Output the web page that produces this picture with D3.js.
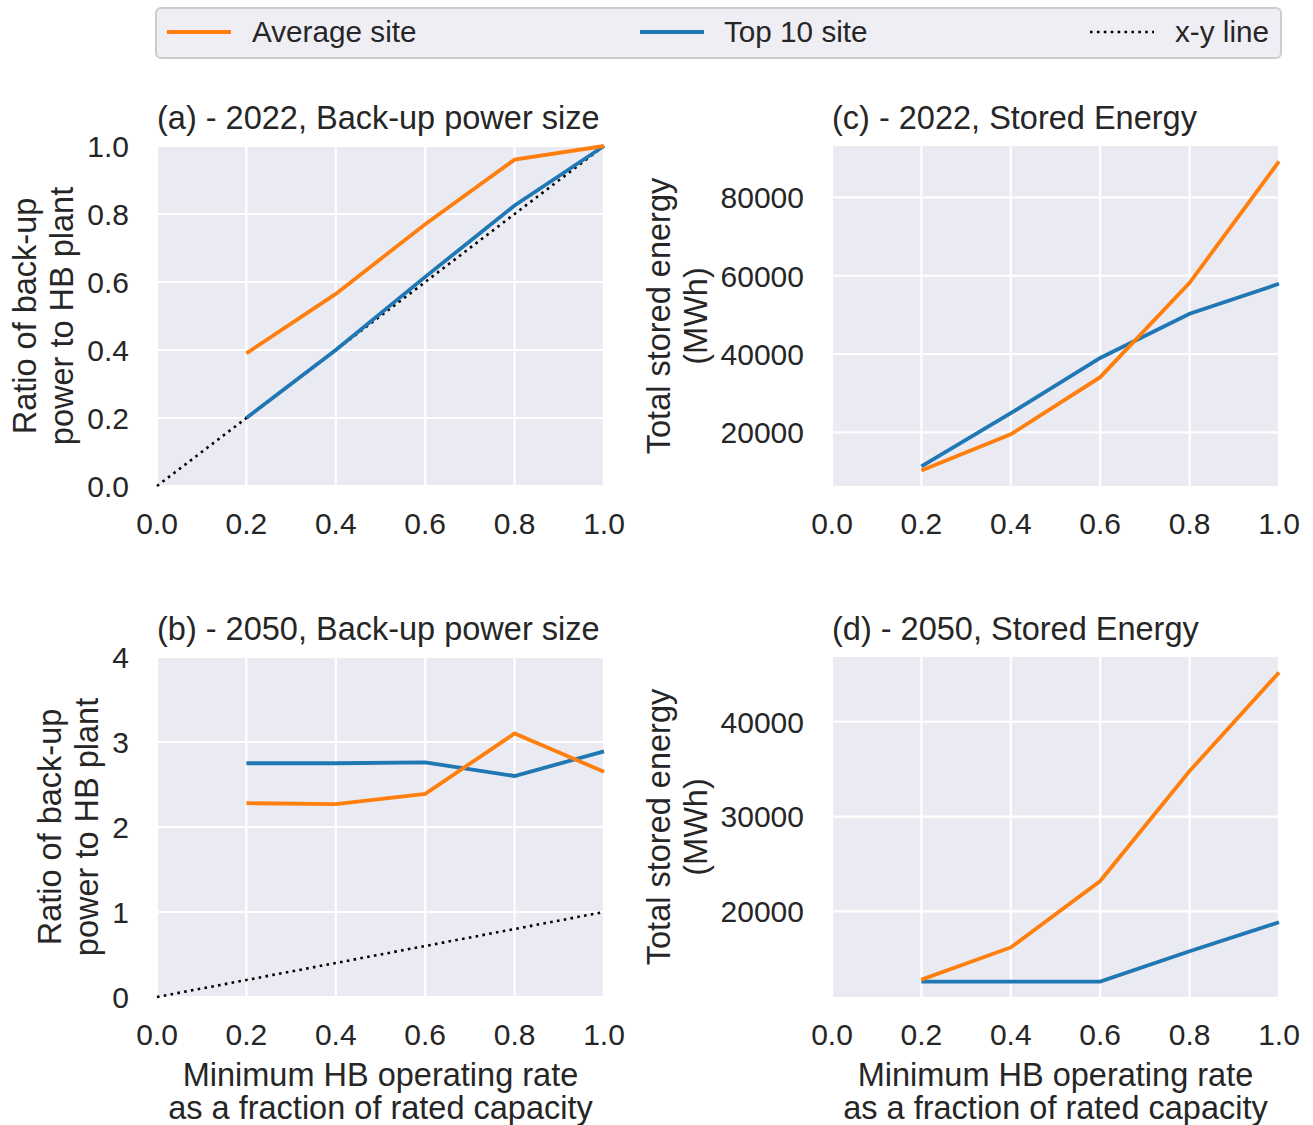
<!DOCTYPE html>
<html>
<head>
<meta charset="utf-8">
<script src="https://cdn.jsdelivr.net/npm/d3@7"></script>
<style>
  body { margin: 0; background: #fff; }
  text { font-family: "Liberation Sans", Arial, sans-serif; fill: #262626; }
</style>
</head>
<body>
<div id="root"></div>
<script>
// minimum HB operating rate
const rates = [0.2, 0.4, 0.6, 0.8, 1.0];

// 2022 back-up power ratio
const avgPower2022 = [0.39, 0.565, 0.77, 0.96, 1.0];
const topPower2022 = [0.2, 0.4, 0.615, 0.825, 1.0];
// 2050 back-up power ratio
const avgPower2050 = [2.28, 2.27, 2.39, 3.10, 2.65];
const topPower2050 = [2.75, 2.75, 2.76, 2.60, 2.89];
// stored energy (MWh)
const avgEnergy2022 = [10250, 19500, 34100, 58200, 89200];
const topEnergy2022 = [11300, 24900, 39000, 50300, 57950];
const avgEnergy2050 = [12800, 16200, 23200, 34800, 45200];
const topEnergy2050 = [12600, 12600, 12600, 15800, 18850];

const xyLine = [0, 1];
const xTicks = [0, 0.2, 0.4, 0.6, 0.8, 1.0];

const ORANGE = '#ff7f0e';
const BLUE = '#1f77b4';

const width = 1313, height = 1125;
const tickSize = 30, labelSize = 32.5, legendSize = 29.7;

const svg = d3.select('#root').append('svg')
  .attr('width', width).attr('height', height);

const powerLabel = ['Ratio of back-up', 'power to HB plant'];
const energyLabel = ['Total stored energy', '(MWh)'];
const xLabel = ['Minimum HB operating rate', 'as a fraction of rated capacity'];

const panels = [
  {title: '(a) - 2022, Back-up power size', left: 157, top: 146, avg: avgPower2022, top10: topPower2022,
    yDomain: [0, 1], yTicks: [0, 0.2, 0.4, 0.6, 0.8, 1.0], fmt: d3.format('.1f'), ylab: powerLabel, xy: true},
  {title: '(b) - 2050, Back-up power size', left: 157, top: 657, avg: avgPower2050, top10: topPower2050,
    yDomain: [0, 4], yTicks: [0, 1, 2, 3, 4], fmt: d3.format('d'), ylab: powerLabel, xy: true, xlab: true},
  {title: '(c) - 2022, Stored Energy', left: 832, top: 146, avg: avgEnergy2022, top10: topEnergy2022,
    yDomain: null, yTicks: null, fmt: d3.format('d'), ylab: energyLabel},
  {title: '(d) - 2050, Stored Energy', left: 832, top: 657, avg: avgEnergy2050, top10: topEnergy2050,
    yDomain: null, yTicks: null, fmt: d3.format('d'), ylab: energyLabel, xlab: true},
];

const pw = 447, ph = 340;

panels.forEach(p => {
  const g = svg.append('g').attr('transform', `translate(${p.left},${p.top})`);
  const x = d3.scaleLinear().domain([0, 1]).range([0, pw]);
  let yDom = p.yDomain;
  if (!yDom) {
    // matplotlib-style autoscale with 5% margins
    const ext = d3.extent(p.avg.concat(p.top10));
    const m = (ext[1] - ext[0]) * 0.05;
    yDom = [ext[0] - m, ext[1] + m];
  }
  const y = d3.scaleLinear().domain(yDom).range([ph, 0]);
  const yT = p.yTicks || y.ticks(5);

  g.append('rect').attr('width', pw).attr('height', ph).attr('fill', '#eaeaf2');

  // grid
  g.selectAll('.gx').data(xTicks).enter().append('line')
    .attr('x1', d => x(d)).attr('x2', d => x(d)).attr('y1', 0).attr('y2', ph)
    .attr('stroke', '#fff').attr('stroke-width', 2.2);
  g.selectAll('.gy').data(yT).enter().append('line')
    .attr('x1', 0).attr('x2', pw).attr('y1', d => y(d)).attr('y2', d => y(d))
    .attr('stroke', '#fff').attr('stroke-width', 2.2);

  // tick labels
  g.selectAll('.tx').data(xTicks).enter().append('text')
    .attr('x', d => x(d)).attr('y', ph + 48)
    .attr('text-anchor', 'middle').attr('font-size', tickSize)
    .text(d => d3.format('.1f')(d));
  const ty = g.append('g');
  ty.selectAll('text').data(yT).enter().append('text')
    .attr('x', -28).attr('y', d => y(d)).attr('dy', '0.36em')
    .attr('text-anchor', 'end').attr('font-size', tickSize)
    .text(d => p.fmt(d));
  const tickLeft = ty.node().getBBox().x;

  const clip = 'clip' + p.title[1];
  g.append('clipPath').attr('id', clip).append('rect')
    .attr('x', -3).attr('y', -3).attr('width', pw + 6).attr('height', ph + 6);
  const plot = g.append('g').attr('clip-path', `url(#${clip})`);

  const line = d3.line().x(d => x(d[0])).y(d => y(d[1]));
  if (p.xy) {
    plot.append('path').datum(xyLine.map(v => [v, v]))
      .attr('d', line).attr('fill', 'none').attr('stroke', '#000')
      .attr('stroke-width', 2.6).attr('stroke-dasharray', '2.6,4.3');
  }
  plot.append('path').datum(rates.map((r, i) => [r, p.top10[i]]))
    .attr('d', line).attr('fill', 'none').attr('stroke', BLUE).attr('stroke-width', 3.8);
  plot.append('path').datum(rates.map((r, i) => [r, p.avg[i]]))
    .attr('d', line).attr('fill', 'none').attr('stroke', ORANGE).attr('stroke-width', 3.8);

  // title, left aligned
  g.append('text').attr('x', 0).attr('y', -17)
    .attr('text-anchor', 'start').attr('font-size', labelSize).text(p.title);

  // y label, two lines
  const base2 = tickLeft - 14;
  const yl = g.append('text')
    .attr('transform', `translate(${base2},${ph / 2}) rotate(-90)`)
    .attr('text-anchor', 'middle').attr('font-size', labelSize);
  yl.append('tspan').attr('x', 0).attr('y', -37).text(p.ylab[0]);
  yl.append('tspan').attr('x', 0).attr('y', 0).text(p.ylab[1]);

  if (p.xlab) {
    const xl = g.append('text').attr('text-anchor', 'middle').attr('font-size', labelSize);
    xl.append('tspan').attr('x', pw / 2).attr('y', ph + 89).text(xLabel[0]);
    xl.append('tspan').attr('x', pw / 2).attr('y', ph + 122).text(xLabel[1]);
  }
});

// legend
const legend = svg.append('g');
legend.append('rect').attr('x', 156).attr('y', 8).attr('width', 1125).attr('height', 50)
  .attr('rx', 5).attr('fill', '#eeeef4').attr('stroke', '#cccccc').attr('stroke-width', 2);
const legendItems = [
  {name: 'Average site', color: ORANGE, x: 167, tx: 252, dash: null, w: 3.8},
  {name: 'Top 10 site', color: BLUE, x: 640, tx: 724, dash: null, w: 3.8},
  {name: 'x-y line', color: '#000', x: 1090, tx: 1175, dash: '2.6,4.3', w: 2.6},
];
legendItems.forEach(it => {
  legend.append('line').attr('x1', it.x).attr('x2', it.x + 64).attr('y1', 32).attr('y2', 32)
    .attr('stroke', it.color).attr('stroke-width', it.w)
    .attr('stroke-dasharray', it.dash);
  legend.append('text').attr('x', it.tx).attr('y', 42).attr('font-size', legendSize).text(it.name);
});
</script>
</body>
</html>
